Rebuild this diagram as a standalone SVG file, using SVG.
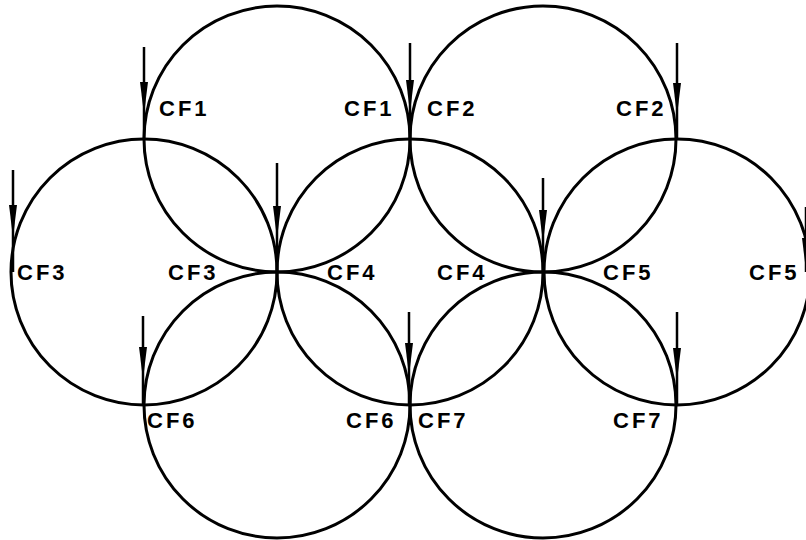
<svg xmlns="http://www.w3.org/2000/svg" width="806" height="540" viewBox="0 0 806 540">
<style>
.c{fill:none;stroke:#000;stroke-width:3}
.a{stroke:#000;stroke-width:2.5;fill:none}
.h{fill:#000}
.t{font-family:"Liberation Sans",Arial,sans-serif;font-size:22px;font-weight:bold;letter-spacing:3px;fill:#000}
</style>
<defs>
<path id="ah" d="M-4,0 L4,0 L0.8,26 L-0.8,26 Z"/>
</defs>
<rect width="806" height="540" fill="#fff"/>
<g id="cf1"><circle class="c" cx="277" cy="139" r="133"/><text class="t" x="159" y="116">CF1</text><text class="t" x="344" y="116">CF1</text></g>
<g id="cf2"><circle class="c" cx="543" cy="139" r="133"/><text class="t" x="427" y="116">CF2</text><text class="t" x="616" y="116">CF2</text></g>
<g id="cf3"><circle class="c" cx="144" cy="272" r="133"/><text class="t" x="17" y="280">CF3</text><text class="t" x="168" y="280">CF3</text></g>
<g id="cf4"><circle class="c" cx="410" cy="272" r="133"/><text class="t" x="327" y="280">CF4</text><text class="t" x="437" y="280">CF4</text></g>
<g id="cf5"><circle class="c" cx="677" cy="272" r="133"/><text class="t" x="603" y="280">CF5</text><text class="t" x="749" y="280">CF5</text></g>
<g id="cf6"><circle class="c" cx="277" cy="405" r="133"/><text class="t" x="147" y="428">CF6</text><text class="t" x="346" y="428">CF6</text></g>
<g id="cf7"><circle class="c" cx="543" cy="405" r="133"/><text class="t" x="418" y="428">CF7</text><text class="t" x="613" y="428">CF7</text></g>
<g id="connectors">
<line class="a" x1="144" y1="47" x2="144" y2="139"/><use href="#ah" class="h" x="144" y="82"/>
<line class="a" x1="410" y1="43" x2="410" y2="139"/><use href="#ah" class="h" x="410" y="80"/>
<line class="a" x1="677" y1="43" x2="677" y2="139"/><use href="#ah" class="h" x="677" y="83"/>
<line class="a" x1="13" y1="170" x2="13" y2="272"/><use href="#ah" class="h" x="13" y="205"/>
<line class="a" x1="277" y1="163" x2="277" y2="272"/><use href="#ah" class="h" x="277" y="206"/>
<line class="a" x1="543" y1="178" x2="543" y2="272"/><use href="#ah" class="h" x="543" y="210"/>
<line class="a" x1="806" y1="207" x2="806" y2="272"/><use href="#ah" class="h" x="806" y="238"/>
<line class="a" x1="143" y1="316" x2="143" y2="405"/><use href="#ah" class="h" x="143" y="347"/>
<line class="a" x1="409" y1="312" x2="409" y2="405"/><use href="#ah" class="h" x="409" y="343"/>
<line class="a" x1="677" y1="312" x2="677" y2="405"/><use href="#ah" class="h" x="677" y="348"/>
</g>
</svg>
